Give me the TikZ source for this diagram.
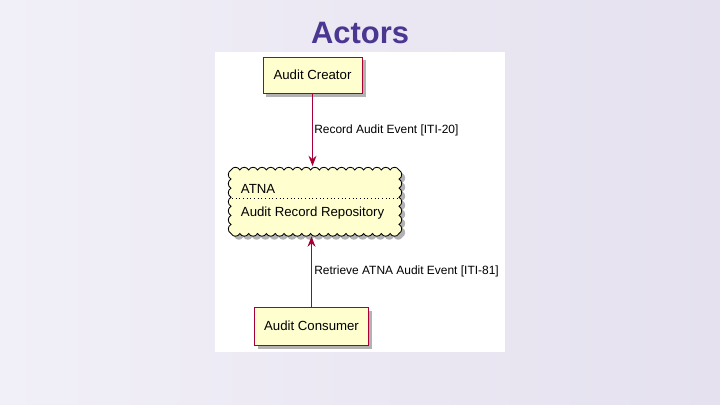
\documentclass[tikz,border=0pt]{standalone}
\usepackage{fontspec}
\setmainfont{Liberation Sans}
\usetikzlibrary{arrows.meta, positioning}
\definecolor{umlfill}{HTML}{FEFECE}
\definecolor{umlline}{HTML}{A80036}
\definecolor{titlepurple}{HTML}{4B3792}
\definecolor{slidebg}{HTML}{E5E1EF}
\definecolor{slidebglight}{HTML}{F1EFF7}

\begin{document}
\begin{tikzpicture}[
    x=0.025cm, y=0.025cm,
    >={Stealth[length=2.6mm, width=2mm, inset=0.9mm]},
    every node/.style={font=\fontsize{9.4}{11}\selectfont},
    shadowed/.style={preaction={fill=black, opacity=0.3,
                  transform canvas={shift={(3.5,-3.5)}}}},
    actor/.style={draw=umlline, fill=umlfill, line width=0.7pt,
                  inner sep=0pt, shadowed},
    cloudline/.style={draw=black, fill=umlfill, line width=0.6pt, shadowed},
    flow/.style ={->, umlline, line width=0.7pt},
    lbl/.style  ={font=\fontsize{8.5}{10}\selectfont, anchor=west, inner sep=0pt},
]
\useasboundingbox (0,0) rectangle (720,404);
% slide background and white panel
\shade[left color=slidebglight, right color=slidebg] (0,0) rectangle (720,404);
\fill[white] (215,52) rectangle (505,352);
\node[font=\fontsize{22}{24}\selectfont\bfseries, text=titlepurple] (title) at (360,371) {Actors};

\node[actor, minimum width=2.475cm, minimum height=0.9cm] (creator) at (312.5,329) {Audit Creator};

% the repository is a scalloped cloud
\node[minimum width=4.35cm, minimum height=1.76cm, inner sep=0pt, outer sep=0pt] (atna) at (315,202.75) {};
\path[cloudline] (231,234)
    foreach \i in {1,...,19} { .. controls +(1.8,3.6) and +(-1.8,3.6) .. ++(8.842,0) }
    foreach \i in {1,...,7}  { .. controls +(3.6,-1.8) and +(3.6,1.8) .. ++(0,-9.071) }
    foreach \i in {1,...,19} { .. controls +(-1.8,-3.6) and +(1.8,-3.6) .. ++(-8.842,0) }
    foreach \i in {1,...,7}  { .. controls +(-3.6,1.8) and +(-3.6,-1.8) .. ++(0,9.071) }
    -- cycle;
\node[anchor=west] (atnaname) at (236,215) {ATNA};
\node[anchor=west] (atnarole) at (236,191) {Audit Record Repository};
\draw[dotted, line width=0.6pt] (232,206) -- (398,206);

\node[actor, minimum width=2.825cm, minimum height=0.95cm] (consumer) at (311.5,78) {Audit Consumer};

\draw[flow] (creator.south) -- (creator.south |- atna.north);
\draw[flow] (consumer.north) -- (consumer.north |- atna.south);
\node[lbl] (reclbl) at (314,274) {Record Audit Event [ITI-20]};
\node[lbl] (retlbl) at (314,133) {Retrieve ATNA Audit Event [ITI-81]};
\end{tikzpicture}
\end{document}
